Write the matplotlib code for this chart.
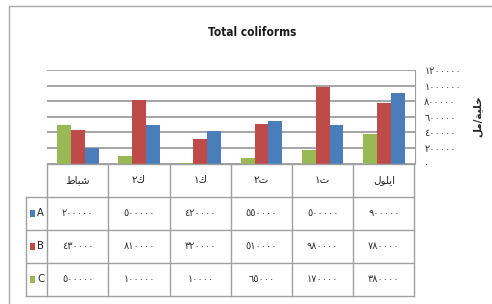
import matplotlib
matplotlib.use("Agg")
import matplotlib.pyplot as plt
from matplotlib.patches import Rectangle

# months, left to right as drawn (Feb ... Sep), written in visual order
# with Arabic presentation forms so they show joined without a shaper
months = ["\uFEC1\uFE8E\uFE92\uFEB7",          # شباط
          "\u0662\uFED9",                      # ك٢
          "\u0661\uFED9",                      # ك١
          "\u0662\uFE95",                      # ت٢
          "\u0661\uFE95",                      # ت١
          "\uFEDD\uFEEE\uFEE0\uFEF3\uFE8D"]    # ايلول
series_names = ["A", "B", "C"]
values_a = [200000, 500000, 420000, 550000, 500000, 900000]
values_b = [430000, 810000, 320000, 510000, 980000, 780000]
values_c = [500000, 100000, 10000, 65000, 170000, 380000]
y_ticks = [0, 200000, 400000, 600000, 800000, 1000000, 1200000]
y_label = "\uFEDE\uFEE3/\uFE94\uFEF4\uFEE0\uFEA7"   # خلية/مل
title = "Total coliforms"

colors = {"A": "#4a7ebb", "B": "#be4b48", "C": "#98b954"}
grid_col = "#8c8c8c"
line_col = "#a0a0a0"

AR_DIGITS = str.maketrans("0123456789", "\u0660\u0661\u0662\u0663\u0664\u0665\u0666\u0667\u0668\u0669")


def ar_num(n):
    return str(n).translate(AR_DIGITS)


plt.rcParams["font.family"] = ["DejaVu Sans"]

W, H = 492, 304
fig = plt.figure(figsize=(W / 100, H / 100), dpi=100)


def fx(px):
    return px / W


def fy(py):
    return 1 - py / H


# outer chart border (right and bottom run off the image)
fig.patches.append(Rectangle((fx(8.5), fy(320)), fx(500), (320 - 5.5) / H,
                             transform=fig.transFigure, fill=False,
                             edgecolor="#a8a8a8", lw=1.0, clip_on=False))

fig.text(fx(252), fy(33), title, ha="center", va="center", fontsize=8.5,
         fontweight="bold", fontstretch="condensed", color="#1a1a1a")

# bar chart area
left, right, top, bottom = 47.3, 414.5, 70, 163.5
ax = fig.add_axes([fx(left), fy(bottom), fx(right - left), (bottom - top) / H])
x = list(range(len(months)))
bw = 0.225
data = {"A": values_a, "B": values_b, "C": values_c}
for off, name in zip([-bw, 0, bw], ["C", "B", "A"]):
    ax.bar([i + off for i in x], data[name], width=bw, color=colors[name],
           zorder=3)
ax.set_xlim(-0.5, len(months) - 0.5)
ax.set_ylim(0, y_ticks[-1])
ax.set_yticks(y_ticks)
ax.set_yticklabels([ar_num(t) for t in y_ticks])
ax.yaxis.tick_right()
ax.tick_params(axis="y", length=0, pad=7, labelsize=7, labelcolor="#333333")
ax.set_xticks([])
ax.grid(axis="y", color=grid_col, lw=1.1, zorder=0)
for s in ["left", "top", "bottom"]:
    ax.spines[s].set_visible(False)
ax.spines["right"].set_color(line_col)

fig.text(fx(477), fy(116), y_label, rotation=90, ha="center", va="center",
         fontsize=7.5, fontweight="bold", color="#222222")

# data table under the chart, sharing the category scale
tb = 296
tax = fig.add_axes([fx(left), fy(tb), fx(right - left), (tb - bottom) / H])
tax.set_xlim(-0.5, len(months) - 0.5)
tax.set_ylim(4, 0)
tax.axis("off")
key_left = -0.5 - (left - 26) / 61.2
n = len(months)
# horizontal lines
tax.plot([-0.5, n - 0.5], [0, 0], color=line_col, lw=1, clip_on=False)
for r in [1, 2, 3, 4]:
    tax.plot([key_left, n - 0.5], [r, r], color=line_col, lw=1, clip_on=False)
# vertical lines
for c in range(n + 1):
    tax.plot([c - 0.5, c - 0.5], [0, 4], color=line_col, lw=1, clip_on=False)
tax.plot([key_left, key_left], [1, 4], color=line_col, lw=1, clip_on=False)

for i, m in enumerate(months):
    tax.text(i, 0.5, m, ha="center", va="center", fontsize=7.5, color="#222222")
for r, name in enumerate(series_names, start=1):
    yc = r + 0.5
    tax.add_patch(Rectangle((-0.5 - 17 / 61.2, yc - 0.1), 5 / 61.2, 0.2,
                            facecolor=colors[name], edgecolor="none",
                            clip_on=False))
    tax.text(-0.5 - 6.5 / 61.2, yc, name, ha="center", va="center",
             fontsize=8, fontstretch="condensed", color="#222222",
             clip_on=False)
    for i, v in enumerate(data[name]):
        tax.text(i, yc, ar_num(v), ha="center", va="center",
                 fontsize=7, color="#333333")

fig.savefig("out.png", dpi=100)
